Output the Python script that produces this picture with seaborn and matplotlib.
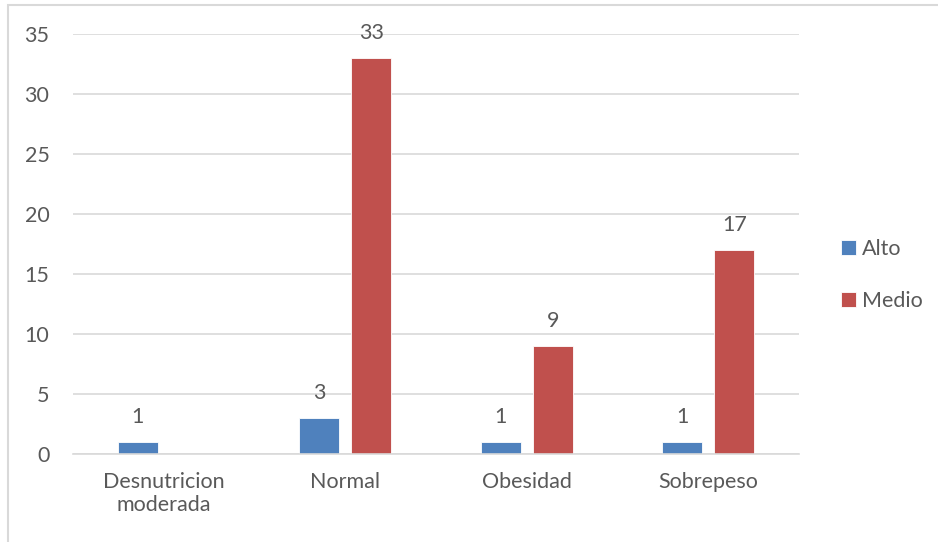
import numpy as np
import pandas as pd
import matplotlib
matplotlib.use("Agg")
import matplotlib.pyplot as plt
import seaborn as sns
from matplotlib.patches import Rectangle

categories = ["Desnutricion\nmoderada", "Normal", "Obesidad", "Sobrepeso"]
alto = [1, 3, 1, 1]
medio = [np.nan, 33, 9, 17]
series = ["Alto", "Medio"]
colors = ["#4F81BD", "#C0504D"]
yticks = [0, 5, 10, 15, 20, 25, 30, 35]

df = pd.DataFrame({
    "categoria": categories * 2,
    "serie": [series[0]] * len(categories) + [series[1]] * len(categories),
    "valor": alto + medio,
})

sns.set_theme(style="white")
plt.rcParams["font.family"] = ["Lato", "DejaVu Sans"]
text_color = "#595959"
fs = 15.5

fig = plt.figure(figsize=(9.38, 5.42), dpi=100)
ax = fig.add_axes([73 / 938, 1 - 454 / 542, (799 - 73) / 938, (454 - 34) / 542])

sns.barplot(data=df, x="categoria", y="valor", hue="serie", order=categories,
            hue_order=series, palette=colors, width=0.573, gap=0.233,
            saturation=1, ax=ax, legend=True, errorbar=None,
            linewidth=0.6, edgecolor="#FFFFFF")

for cont in ax.containers:
    ax.bar_label(cont, fmt="%g", padding=11, fontsize=fs, color=text_color)

ax.set_ylim(0, 35)
ax.set_yticks(yticks)
ax.set_xlim(-0.5, 3.5)
ax.set_xlabel("")
ax.set_ylabel("")
ax.yaxis.grid(True, color="#D9D9D9", linewidth=1.2)
ax.set_axisbelow(True)
for s in ["top", "right", "left"]:
    ax.spines[s].set_visible(False)
ax.spines["bottom"].set_color("#D9D9D9")
ax.spines["bottom"].set_linewidth(1.2)
ax.tick_params(axis="y", length=0, pad=17, labelsize=fs, labelcolor=text_color)
ax.tick_params(axis="x", length=0, pad=13, labelsize=fs, labelcolor=text_color)

ax.legend(loc="center left", bbox_to_anchor=(832 / 938, 1 - 275 / 542),
          bbox_transform=fig.transFigure, frameon=False, fontsize=fs,
          handlelength=0.7, handleheight=0.7, handletextpad=0.3,
          labelspacing=1.45, labelcolor=text_color, borderaxespad=0)

fig.patches.append(Rectangle((8 / 938, -0.1), 1.2, 1 - 5 / 542 + 0.1,
                             transform=fig.transFigure, fill=False,
                             edgecolor="#D9D9D9", linewidth=1.5))

fig.savefig("out.png", dpi=100, facecolor="white")
